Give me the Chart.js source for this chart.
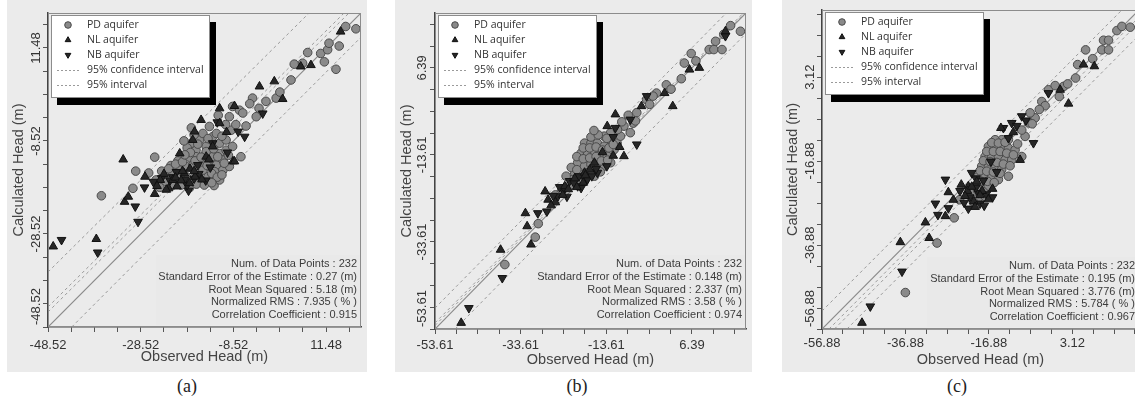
<!DOCTYPE html>
<html>
<head>
<meta charset="utf-8">
<script src="https://cdn.jsdelivr.net/npm/chart.js@4.4.1/dist/chart.umd.min.js"></script>
<style>
  html, body { margin: 0; padding: 0; background: #fff; }
  body { width: 1135px; height: 402px; overflow: hidden; position: relative; }
  .panel { position: absolute; top: 0; height: 372px; background: #ebebeb; }
  .panel canvas { position: absolute; left: 0; top: 0; }
  .cap { position: absolute; top: 376px; font: 18px "Liberation Serif", "Times New Roman", serif; color: #222; transform: translateX(-50%); }
</style>
</head>
<body>
<div class="panel" style="left:7px;width:360px"><canvas id="ca" width="360" height="372"></canvas></div>
<div class="panel" style="left:395px;width:357px"><canvas id="cb" width="357" height="372"></canvas></div>
<div class="panel" style="left:782px;width:366px"><canvas id="cc" width="366" height="372"></canvas></div>
<div class="cap" style="left:187px">(a)</div>
<div class="cap" style="left:577px">(b)</div>
<div class="cap" style="left:957px">(c)</div>
<script>
// ---- panel (a) ----
const ticksA = [-48.52, -28.52, -8.52, 11.48];
const rangeA = [-48.52, 19];
const statsA = ['Num. of Data Points : 232', 'Standard Error of the Estimate : 0.27 (m)',
  'Root Mean Squared : 5.18 (m)', 'Normalized RMS : 7.935 ( % )', 'Correlation Coefficient : 0.915'];
const pdA = [[-37.0,-20.3],[-30.2,-18.7],[-29.6,-15.0],[-25.5,-12.0],[-17.6,-5.7],[-24.4,-18.5],[-12.7,-18.1],
  [-6.9,-11.9],[-5.8,-5.3],[-3.6,-3.3],[-1.5,0.0],[0.7,0.7],[-4.4,0.7],[3.9,4.6],[4.6,8.0],[6.4,8.2],[7.5,10.5],
  [10.3,10.3],[11.1,8.5],[11.8,11.1],[12.1,12.5],[13.6,6.9],[14.3,11.9],[15.7,16.1],[17.9,15.6],[-8.7,-1.1],
  [-9.4,-3.3],[-7.2,-1.9],[-23.0,-16.2],[-21.6,-15.5],[-20.1,-14.8],[-18.7,-14.0],[-17.3,-13.7],[-15.8,-13.3],
  [-14.4,-12.6],[-13.0,-11.9],[-11.5,-11.2],[-10.1,-10.5],[-18.7,-16.2],[-16.6,-15.5],[-15.1,-14.8],[-13.7,-14.0],
  [-12.2,-13.7],[-10.8,-14.8],[-15.8,-16.9],[-14.0,-16.2],[-12.6,-15.1],[-17.3,-17.3],[-15.1,-11.9],[-16.6,-10.5],
  [-15.8,-8.3],[-14.4,-9.7],[-13.0,-7.6],[-11.5,-9.0],[-12.2,-6.9],[-13.7,-5.4],[-15.1,-6.9],[-10.8,-12.6],
  [-9.4,-14.0],[-11.5,-16.9],[-19.8,-18.0],[-21.6,-18.0],[-25.2,-16.9],[-23.0,-17.3],[-16.6,-11.9],[-17.6,-9.0],
  [-14.4,-10.8],[-11.9,-11.9],[-10.1,-8.3],[-8.7,-9.7],[-9.0,-6.2],[-8.0,-5.0],[-18.5,-10.0],[-20.5,-12.8],
  [-22.0,-13.8],[-26.8,-15.4],[-24.0,-15.0],[-22.5,-14.5],[-21.0,-13.5],[-19.5,-13.0],[-18.0,-12.0],[-16.8,-12.8],
  [-15.5,-12.0],[-14.2,-13.8],[-13.2,-15.5],[-12.0,-16.3],[-11.0,-15.8],[-10.5,-13.3],[-9.6,-11.6],[-12.8,-10.2],
  [-14.0,-8.0],[-16.2,-9.2],[-17.8,-11.0],[-19.0,-11.5],[-20.0,-16.5],[-18.0,-18.6],[-16.5,-17.8],[-14.8,-18.0],
  [-13.2,-17.5],[-11.0,-7.5],[-10.2,-5.0],[-11.8,-3.0],[-6.5,-2.5],[-5.0,-0.5],[-3.0,-1.5],[1.5,2.0],[-19.2,-8.5],
  [-17.0,-7.2]];
const nlA = [[-47.4,-31.2],[-38.1,-29.6],[-32.3,-12.5],[-32.0,-21.6],[-31.2,-20.5],[-25.5,-19.9],[-27.6,-16.2],
  [-22.5,-18.7],[-20.1,-11.2],[-17.3,-8.3],[-11.5,-1.5],[-8.3,-1.0],[-16.9,-6.5],[-2.9,3.2],[0.3,4.3],[2.1,0.5],
  [8.2,7.8],[6.0,7.5],[14.6,15.0],[-8.6,-12.9],[-8.3,-12.9],[-14.4,-11.9],[-13.0,-9.7],[-21.6,-16.9],[-19.1,-15.5],
  [-11.5,-4.7],[-23.5,-15.6],[-21.0,-16.4],[-19.5,-15.0],[-18.0,-17.6],[-16.8,-16.2],[-20.7,-18.3],[-24.3,-16.9],
  [-17.9,-14.5],[-25.0,-18.2],[-23.0,-19.0],[-19.8,-17.0],[-17.0,-15.0],[-15.3,-16.8],[-13.8,-12.5],[-10.0,-6.6],
  [-15.5,-4.0]];
const nbA = [[-45.6,-29.8],[-37.8,-32.5],[-29.7,-22.6],[-29.1,-25.9],[-27.7,-18.5],[-18.2,-19.2],[-6.1,-7.6],
  [-2.2,-2.6],[-16.2,-13.7],[-22.2,-17.0],[-19.0,-16.8],[-16.0,-15.6],[-14.5,-17.0],[-20.8,-15.2],[-25.8,-17.3],
  [-13.0,-9.0],[-12.0,-4.5],[-24.0,-16.5],[-21.6,-16.3],[-18.5,-18.0],[-17.0,-16.6],[-13.5,-14.2],[-9.8,-11.0],
  [-7.5,-6.5]];
const oneA = [[-48.52,-48.52],[19,19]];
const confA = [[[-48.52,-44.2],[15.35,19]], [[-48.52,-45.3],[16.4,19]]];
const bandA = [[[-48.52,-36.7],[7.8,19]], [[-43.4,-48.52],[19,13.8]]];

// ---- panel (b) ----
const ticksB = [-53.61, -33.61, -13.61, 6.39];
const rangeB = [-53.61, 19];
const statsB = ['Num. of Data Points : 232', 'Standard Error of the Estimate : 0.148 (m)',
  'Root Mean Squared : 2.337 (m)', 'Normalized RMS : 3.58 ( % )', 'Correlation Coefficient : 0.974'];
const pdB = [[-37.3,-38.8],[-30.2,-32.5],[-29.5,-29.4],[-24.1,-22.0],[-21.4,-20.4],[3.9,3.9],[4.6,7.5],[6.2,9.7],
  [7.3,8.0],[10.4,10.6],[11.5,10.6],[11.9,12.5],[13.4,10.6],[13.8,14.1],[15.4,16.1],[17.7,14.8],[0.4,2.5],
  [-1.9,0.6],[-4.2,-0.9],[-2.7,-0.1],[-6.5,-3.9],[-8.0,-8.5],[-9.5,-7.0],[-7.3,-6.3],[-18.7,-10.9],[-17.2,-10.9],
  [-15.7,-10.9],[-14.1,-11.6],[-12.6,-10.1],[-19.5,-13.2],[-18.0,-13.5],[-16.4,-12.8],[-14.9,-13.5],[-13.4,-13.9],
  [-11.8,-12.4],[-20.3,-15.4],[-18.7,-16.2],[-17.2,-15.8],[-15.7,-15.4],[-14.1,-16.2],[-12.6,-15.4],[-21.0,-17.7],
  [-19.5,-18.1],[-18.0,-17.7],[-16.4,-18.5],[-21.8,-19.3],[-20.3,-19.3],[-11.1,-10.9],[-10.3,-9.3],[-12.6,-8.5],
  [-14.1,-9.3],[-19.0,-12.0],[-17.5,-12.0],[-16.0,-11.8],[-14.5,-12.5],[-13.0,-12.0],[-12.0,-11.2],[-20.5,-14.0],
  [-19.0,-14.5],[-17.5,-14.3],[-16.0,-14.0],[-14.8,-15.0],[-13.3,-14.8],[-21.8,-16.5],[-20.5,-17.0],[-17.0,-17.2],
  [-15.0,-17.5],[-23.0,-18.5],[-22.0,-20.5],[-19.0,-19.5],[-17.2,-9.5],[-15.5,-9.0],[-13.5,-9.8],[-16.5,-8.0],
  [-11.0,-7.8],[-10.0,-6.0],[-8.5,-4.5],[-6.8,-5.8],[-3.5,-2.0],[1.5,1.5],[-25.5,-22.8]];
const nlB = [[-47.5,-52.2],[-38.3,-35.4],[-32.5,-27.0],[-32.1,-30.0],[-31.2,-34.2],[-27.9,-22.0],[-11.5,-4.3],
  [-13.4,-7.0],[-9.5,-13.9],[-5.4,-2.4],[0.0,0.6],[1.9,-2.4],[5.8,6.0],[8.1,6.4],[14.2,14.8],[-27.2,-23.9],
  [-23.3,-20.8],[-18.7,-17.7],[-16.4,-15.4],[-22.5,-21.5],[-21.0,-19.0],[-19.0,-20.0],[-17.5,-17.0],[-25.5,-24.5],
  [-20.5,-21.0],[-18.5,-18.3],[-23.8,-22.8],[-14.5,-13.0],[-12.0,-13.8],[-26.5,-25.2],[-10.5,-11.8]];
const nbB = [[-45.7,-48.8],[-37.9,-41.9],[-29.6,-27.0],[-27.5,-26.6],[-22.2,-19.6],[-20.3,-20.8],[-11.5,-7.4],
  [-6.5,-11.2],[-4.2,-0.1],[-8.0,-5.5],[-24.9,-23.1],[-18.4,-19.6],[-15.7,-17.7],[14.2,13.7],[-23.6,-21.8],
  [-20.0,-18.5],[-18.0,-19.2],[-16.0,-16.8],[-26.0,-23.0],[-22.8,-23.2],[-21.2,-20.0],[-19.5,-21.2],[-17.0,-18.5],
  [-13.5,-16.2],[-24.5,-21.0],[-12.0,-9.5]];
const oneB = [[-53.61,-53.61],[19,19]];
const confB = [[[-53.61,-52.8],[19,19.3]], [[-53.61,-52.2],[19,19.6]]];
const bandB = [[[-53.61,-48.8],[14.4,19]], [[-48.9,-53.61],[19,14.3]]];

// ---- panel (c) ----
const ticksC = [-56.88, -36.88, -16.88, 3.12];
const rangeC = [-56.88, 19.1];
const statsC = ['Num. of Data Points : 232', 'Standard Error of the Estimate : 0.195 (m)',
  'Root Mean Squared : 3.776 (m)', 'Normalized RMS : 5.784 ( % )', 'Correlation Coefficient : 0.967'];
const pdC = [[-36.9,-48.2],[-29.3,-36.4],[-25.2,-30.4],[-23.9,-26.1],[3.9,2.9],[4.4,6.1],[6.3,9.6],[10.2,9.6],
  [11.8,9.6],[10.6,11.9],[11.8,11.9],[13.8,14.2],[15.0,15.2],[17.0,15.0],[-2.6,0.1],[-1.0,1.1],[1.0,0.9],
  [-4.2,-2.7],[-3.4,-3.7],[-5.8,-6.6],[-7.4,-7.8],[-8.2,-11.0],[-7.0,-5.4],[-17.0,-13.4],[-15.4,-13.4],
  [-13.8,-13.4],[-12.2,-13.8],[-10.6,-14.2],[-17.8,-15.8],[-16.2,-15.8],[-14.6,-15.8],[-13.0,-16.6],[-11.4,-16.6],
  [-18.6,-18.1],[-17.0,-18.1],[-15.4,-18.5],[-13.8,-18.9],[-12.2,-20.5],[-19.4,-20.5],[-17.8,-20.5],[-16.2,-20.5],
  [-14.6,-21.3],[-20.2,-22.9],[-18.6,-22.9],[-17.0,-22.9],[-21.0,-24.5],[-19.4,-25.7],[-17.8,-25.3],[-13.8,-11.8],
  [-12.2,-11.8],[-15.4,-11.8],[-9.0,-15.8],[-16.2,-12.5],[-14.6,-12.6],[-13.0,-12.4],[-17.4,-14.6],[-15.8,-14.6],
  [-14.2,-14.6],[-12.6,-15.0],[-11.0,-15.4],[-18.2,-16.8],[-16.6,-17.0],[-15.0,-17.2],[-13.4,-17.6],[-11.8,-18.0],
  [-19.0,-19.2],[-17.4,-19.3],[-15.8,-19.5],[-14.2,-19.8],[-18.8,-21.7],[-17.2,-21.7],[-15.6,-22.0],[-19.6,-23.8],
  [-18.2,-24.2],[-20.6,-26.6],[-10.0,-12.8],[-9.0,-9.5],[-6.5,-8.0],[-4.8,-4.6],[0.0,-1.5],[2.0,1.5],[8.0,7.5]];
const nlC = [[-47.3,-55.4],[-38.1,-36.2],[-32.1,-31.5],[-31.2,-35.2],[-26.6,-24.3],[-25.4,-26.1],[2.2,-3.2],
  [8.4,5.7],[5.8,6.1],[0.2,0.1],[-9.4,-16.6],[-27.3,-30.0],[-21.8,-22.9],[-22.0,-24.0],[-20.5,-26.5],[-18.5,-24.0],
  [-19.8,-21.8],[-16.0,-23.5],[-23.5,-22.5],[-21.0,-23.0],[-19.0,-25.0],[-17.0,-26.0],[-20.2,-27.8],[-22.6,-25.2],
  [-14.0,-9.0],[-11.0,-10.0]];
const nbC = [[-45.3,-51.5],[-37.7,-43.2],[-27.3,-21.3],[-29.7,-27.0],[-29.1,-29.7],[-6.2,-12.6],[-13.4,-9.0],
  [-11.4,-7.8],[-9.0,-6.2],[-2.6,-0.7],[-12.2,-11.4],[-21.0,-19.7],[-19.4,-24.5],[-26.6,-28.1],[-21.5,-25.5],
  [-19.0,-27.0],[-17.5,-24.8],[-20.0,-23.2],[-22.8,-26.8],[-15.0,-19.5],[-18.2,-21.5],[-16.4,-17.0],[-20.0,-21.0],
  [-18.0,-27.5],[-21.8,-28.2],[-16.0,-25.5],[-23.8,-24.0],[-10.2,-8.5],[-8.0,-7.2]];
const oneC = [[-56.88,-56.88],[19.1,19.1]];
const confC = [[[-55.2,-56.88],[19.1,17.4]], [[-53.9,-56.88],[19.1,16.1]]];
const bandC = [[[-56.88,-52.6],[15.0,19.1]], [[-50.9,-56.88],[19.1,13.1]]];

const tickFont = { family: '"Liberation Sans", Arial, sans-serif', size: 13 };
const titleFont = { family: '"Liberation Sans", Arial, sans-serif', size: 14.5 };

const toXY = arr => arr.map(p => ({ x: p[0], y: p[1] }));

// majors every 20 units, minor tick marks every 5
const tickValues = (lo, hi) => {
  const out = [];
  for (let v = lo; v <= hi + 1e-6; v += 5) out.push(Math.round(v * 100) / 100);
  return out;
};

const isMajor = (v, majors) => majors.some(m => Math.abs(m - v) < 1e-6);

const decor = {
  id: 'decor',
  afterDatasetsDraw(chart, args, o) {
    const { ctx, chartArea: ca } = chart;
    ctx.save();
    ctx.strokeStyle = '#8c8c8c';
    ctx.lineWidth = 1;
    ctx.strokeRect(ca.left + 0.5, ca.top + 0.5, ca.width - 1, ca.height - 1);

    // statistics box
    const bh = 70;
    const bx = ca.right - o.statsWidth, by = ca.bottom - o.statsGap - bh;
    ctx.fillStyle = '#e9e9e9';
    ctx.fillRect(bx, by, o.statsWidth - 1, bh);
    ctx.font = '11px "Liberation Sans", Arial, sans-serif';
    ctx.fillStyle = '#3c3c3c';
    ctx.textAlign = 'right';
    ctx.textBaseline = 'middle';
    o.stats.forEach((t, i) => ctx.fillText(t, ca.right - 4, by + 9 + i * 12.75));

    // legend
    const lx = ca.left + 3, ly = ca.top + 2, lw = 159, lh = 83;
    ctx.fillStyle = '#000';
    ctx.fillRect(lx + 6, ly + 7, lw, lh);
    ctx.fillStyle = '#fff';
    ctx.fillRect(lx, ly, lw, lh);
    ctx.strokeStyle = '#8c8c8c';
    ctx.strokeRect(lx + 0.5, ly + 0.5, lw - 1, lh - 1);
    ctx.font = '10.5px "Open Sans", sans-serif';
    ctx.textAlign = 'left';
    const items = chart.data.datasets.filter(d => d.legend);
    items.forEach((d, i) => {
      const ry = ly + 10 + i * 15;
      if (d.showLine) {
        ctx.strokeStyle = '#9a9a9a';
        ctx.lineWidth = 1;
        ctx.setLineDash([2, 2]);
        ctx.beginPath();
        ctx.moveTo(lx + 6, ry + 0.5);
        ctx.lineTo(lx + 29, ry + 0.5);
        ctx.stroke();
        ctx.setLineDash([]);
      } else {
        ctx.fillStyle = d.pointBackgroundColor;
        ctx.strokeStyle = d.pointBorderColor;
        ctx.lineWidth = 1;
        Chart.helpers.drawPoint(ctx, { pointStyle: d.pointStyle, radius: 3.3, rotation: d.pointRotation || 0, borderWidth: 1 }, lx + 17, ry);
      }
      ctx.fillStyle = '#333';
      ctx.fillText(d.label, lx + 36, ry + 0.5);
    });
    ctx.restore();
  },
  afterDraw(chart, args, o) {
    const { ctx } = chart;
    const ys = chart.scales.y;
    ctx.save();
    ctx.font = '13px "Liberation Sans", Arial, sans-serif';
    ctx.fillStyle = '#333';
    ctx.textBaseline = 'middle';
    o.majors.forEach((v, i) => {
      ctx.save();
      const py = ys.getPixelForValue(v);
      ctx.translate(ys.right - o.yLabelGap, i === 0 ? py - 2 : py);
      ctx.rotate(-Math.PI / 2);
      // the lowest label sits above the corner instead of centred on it
      ctx.textAlign = i === 0 ? 'left' : 'center';
      ctx.fillText(v.toFixed(2), 0, 0);
      ctx.restore();
    });
    ctx.restore();
  }
};

const lineSet = (pts, label) => ({
  label: label || '', legend: !!label, data: toXY(pts), showLine: true, pointRadius: 0, order: 3,
  borderColor: '#9a9a9a', borderWidth: 1, borderDash: [3, 3], fill: false
});

const makeChart = (id, p) => {
  const [lo, hi] = p.range;
  const vals = tickValues(lo, hi);
  const datasets = [
    { label: 'PD aquifer', legend: true, data: toXY(p.pd), order: 2, pointStyle: 'circle', pointRadius: 4.3,
      pointBackgroundColor: '#8a8a8a', pointBorderColor: '#4a4a4a', pointBorderWidth: 1 },
    { label: 'NL aquifer', legend: true, data: toXY(p.nl), order: 1, pointStyle: 'triangle', pointRadius: 5,
      pointBackgroundColor: '#262626', pointBorderColor: '#111', pointBorderWidth: 1 },
    { label: 'NB aquifer', legend: true, data: toXY(p.nb), order: 1, pointStyle: 'triangle', pointRotation: 180, pointRadius: 5,
      pointBackgroundColor: '#262626', pointBorderColor: '#111', pointBorderWidth: 1 },
    lineSet(p.conf[0], '95% confidence interval'),
    lineSet(p.conf[1]),
    lineSet(p.band[0], '95% interval'),
    lineSet(p.band[1]),
    { label: '', data: toXY(p.one), showLine: true, pointRadius: 0, order: 3, borderColor: '#8a8a8a', borderWidth: 1.2 }
  ];
  const b = p.box;
  const common = {
    type: 'linear', min: lo, max: hi,
    afterBuildTicks: s => { s.ticks = vals.map(v => ({ value: v })); },
    grid: { drawOnChartArea: false, drawTicks: true, tickLength: 5, color: '#555' },
    border: { display: true, color: '#444', width: 1.5 }
  };
  return new Chart(document.getElementById(id), {
    type: 'scatter',
    data: { datasets },
    options: {
      responsive: false, animation: false, devicePixelRatio: 1, events: [],
      layout: { padding: { top: b.top, right: b.right, left: 0, bottom: 0 } },
      scales: {
        x: {
          ...common,
          afterFit: s => { s.height = b.xH; },
          ticks: { autoSkip: false, maxRotation: 0, padding: b.tickPad, font: tickFont, color: '#333',
            callback: v => isMajor(v, p.majors) ? v.toFixed(2) : '' },
          title: { display: true, text: 'Observed Head (m)', font: titleFont, color: '#444', padding: { top: 0, bottom: b.xTitle } }
        },
        y: {
          ...common,
          afterFit: s => { s.width = b.yW; },
          ticks: { display: false },
          title: { display: true, text: 'Calculated Head (m)', font: titleFont, color: '#444', padding: { top: b.yTitle, bottom: 0 } }
        }
      },
      plugins: {
        legend: { display: false }, tooltip: { enabled: false },
        decor: { stats: p.stats, majors: p.majors, statsWidth: b.statsW, statsGap: b.statsGap, yLabelGap: b.yLabelGap }
      }
    },
    plugins: [decor]
  });
};

makeChart('ca', { range: rangeA, majors: ticksA, pd: pdA, nl: nlA, nb: nbA, one: oneA, conf: confA, band: bandA, stats: statsA,
  box: { yW: 41, top: 13, right: 5, xH: 45, xTitle: 6.6, yTitle: 3, tickPad: 6, statsW: 205, statsGap: 2, yLabelGap: 12 } });
makeChart('cb', { range: rangeB, majors: ticksB, pd: pdB, nl: nlB, nb: nbB, one: oneB, conf: confB, band: bandB, stats: statsB,
  box: { yW: 40, top: 13, right: 1, xH: 43, xTitle: 3.6, yTitle: 3.6, tickPad: 4, statsW: 216, statsGap: 4, yLabelGap: 13 } });
makeChart('cc', { range: rangeC, majors: ticksC, pd: pdC, nl: nlC, nb: nbC, one: oneC, conf: confC, band: bandC, stats: statsC,
  box: { yW: 40, top: 10, right: 9, xH: 43, xTitle: 3.6, yTitle: 2.6, tickPad: 2, statsW: 212, statsGap: 2, yLabelGap: 12 } });
</script>
</body>
</html>
